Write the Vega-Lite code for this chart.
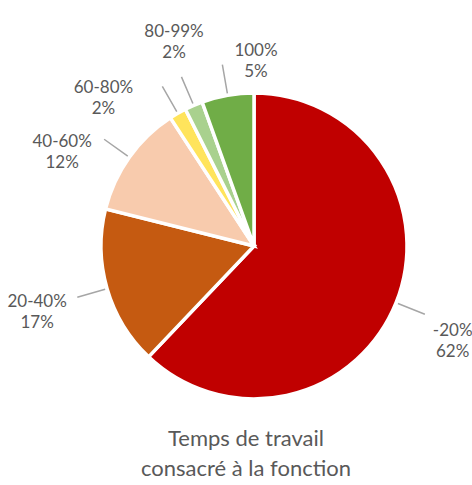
{
  "$schema": "https://vega.github.io/schema/vega-lite/v6.json",
  "width": 436,
  "height": 360,
  "autosize": "none",
  "padding": {"left": 36, "top": 66, "right": 0, "bottom": 59},
  "background": "white",
  "config": {"view": {"stroke": null}, "font": "Lato"},
  "title": {
    "text": ["Temps de travail", "consacré à la fonction"],
    "orient": "bottom",
    "anchor": "middle",
    "fontSize": 22,
    "font": "Lato",
    "fontWeight": "normal",
    "color": "#595959",
    "lineHeight": 30,
    "offset": 3,
    "dx": -8
  },
  "data": {
    "values": [
      {"i": 1, "cat": "-20%", "value": 62.1, "lbl": "-20%\n62%"},
      {"i": 2, "cat": "20-40%", "value": 16.8, "lbl": "20-40%\n17%"},
      {"i": 3, "cat": "40-60%", "value": 11.9, "lbl": "40-60%\n12%"},
      {"i": 4, "cat": "60-80%", "value": 1.8, "lbl": "60-80%\n2%"},
      {"i": 5, "cat": "80-99%", "value": 1.9, "lbl": "80-99%\n2%"},
      {"i": 6, "cat": "100%", "value": 5.5, "lbl": "100%\n5%"}
    ]
  },
  "transform": [
    {"stack": "value", "groupby": [], "sort": [{"field": "i", "order": "ascending"}], "as": ["v0", "v1"]},
    {"fold": ["v0", "v1"], "as": ["k", "vv"]},
    {"joinaggregate": [{"op": "mean", "field": "vv", "as": "mid"}], "groupby": ["cat"]},
    {"filter": "datum.k === 'v0'"}
  ],
  "layer": [
    {
      "mark": {"type": "arc", "outerRadius": 153, "stroke": "white", "strokeWidth": 3.5},
      "encoding": {
        "theta": {"field": "v0", "type": "quantitative", "scale": {"domain": [0, 100]}},
        "theta2": {"field": "v1"},
        "color": {
          "field": "cat",
          "type": "nominal",
          "scale": {
            "domain": ["-20%", "20-40%", "40-60%", "60-80%", "80-99%", "100%"],
            "range": ["#C00000", "#C55A11", "#F8CBAD", "#FFE45C", "#A9D18E", "#70AD47"]
          },
          "legend": null
        }
      }
    },
    {
      "mark": {"type": "arc", "outerRadius": 184, "innerRadius": 155, "filled": false, "stroke": "#A6A6A6", "strokeWidth": 1.5},
      "encoding": {
        "theta": {"field": "mid", "type": "quantitative", "scale": {"domain": [0, 100]}},
        "theta2": {"field": "mid"}
      }
    },
    {
      "transform": [{"filter": "datum.cat === '-20%'"}],
      "mark": {"type": "text", "radius": 216, "thetaOffset": 0.023, "lineBreak": "\n", "fontSize": 17, "color": "#595959", "align": "center", "baseline": "middle", "lineHeight": 21},
      "encoding": {
        "theta": {"field": "mid", "type": "quantitative", "stack": null, "scale": {"domain": [0, 100]}},
        "text": {"field": "lbl", "type": "nominal"}
      }
    },
    {
      "transform": [{"filter": "datum.cat === '20-40%'"}],
      "mark": {"type": "text", "radius": 224, "thetaOffset": 0.03, "lineBreak": "\n", "fontSize": 17, "color": "#595959", "align": "center", "baseline": "middle", "lineHeight": 21},
      "encoding": {
        "theta": {"field": "mid", "type": "quantitative", "stack": null, "scale": {"domain": [0, 100]}},
        "text": {"field": "lbl", "type": "nominal"}
      }
    },
    {
      "transform": [{"filter": "datum.cat === '40-60%'"}],
      "mark": {"type": "text", "radius": 218, "thetaOffset": -0.124, "lineBreak": "\n", "fontSize": 17, "color": "#595959", "align": "center", "baseline": "middle", "lineHeight": 21},
      "encoding": {
        "theta": {"field": "mid", "type": "quantitative", "stack": null, "scale": {"domain": [0, 100]}},
        "text": {"field": "lbl", "type": "nominal"}
      }
    },
    {
      "transform": [{"filter": "datum.cat === '60-80%'"}],
      "mark": {"type": "text", "radius": 218, "thetaOffset": -0.241, "lineBreak": "\n", "fontSize": 17, "color": "#595959", "align": "center", "baseline": "middle", "lineHeight": 21},
      "encoding": {
        "theta": {"field": "mid", "type": "quantitative", "stack": null, "scale": {"domain": [0, 100]}},
        "text": {"field": "lbl", "type": "nominal"}
      }
    },
    {
      "transform": [{"filter": "datum.cat === '80-99%'"}],
      "mark": {"type": "text", "radius": 228, "thetaOffset": 0.047, "lineBreak": "\n", "fontSize": 17, "color": "#595959", "align": "center", "baseline": "middle", "lineHeight": 21},
      "encoding": {
        "theta": {"field": "mid", "type": "quantitative", "stack": null, "scale": {"domain": [0, 100]}},
        "text": {"field": "lbl", "type": "nominal"}
      }
    },
    {
      "transform": [{"filter": "datum.cat === '100%'"}],
      "mark": {"type": "text", "radius": 195, "thetaOffset": 0.183, "lineBreak": "\n", "fontSize": 17, "color": "#595959", "align": "center", "baseline": "middle", "lineHeight": 21},
      "encoding": {
        "theta": {"field": "mid", "type": "quantitative", "stack": null, "scale": {"domain": [0, 100]}},
        "text": {"field": "lbl", "type": "nominal"}
      }
    }
  ]
}
